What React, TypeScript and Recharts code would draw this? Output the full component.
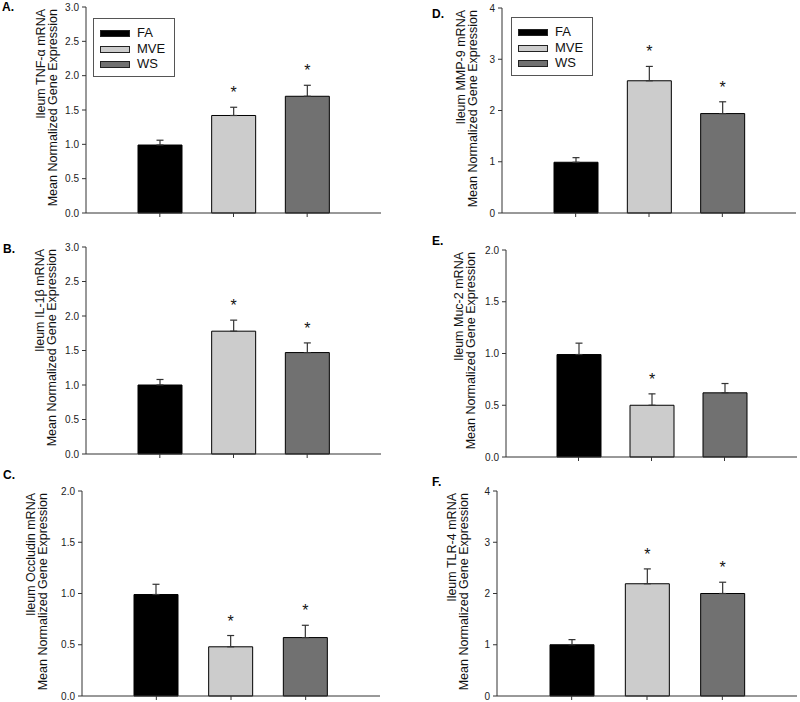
import { Bar, BarChart, Cell, ErrorBar, LabelList, Legend, XAxis, YAxis } from "recharts"

const groups = ["FA", "MVE", "WS"]
const groupColors = ["#000000", "#cccccc", "#717171"]

const tnfMean = [0.99, 1.42, 1.7]
const tnfErr = [0.07, 0.12, 0.16]
const tnfSig = [false, true, true]

const il1Mean = [1.0, 1.78, 1.47]
const il1Err = [0.08, 0.16, 0.14]
const il1Sig = [false, true, true]

const occludinMean = [0.99, 0.48, 0.57]
const occludinErr = [0.1, 0.11, 0.12]
const occludinSig = [false, true, true]

const mmp9Mean = [0.99, 2.58, 1.94]
const mmp9Err = [0.09, 0.28, 0.23]
const mmp9Sig = [false, true, true]

const muc2Mean = [0.99, 0.5, 0.62]
const muc2Err = [0.11, 0.11, 0.09]
const muc2Sig = [false, true, false]

const tlr4Mean = [1.0, 2.19, 2.0]
const tlr4Err = [0.1, 0.29, 0.22]
const tlr4Sig = [false, true, true]

const ticksThree = [0, 0.5, 1, 1.5, 2, 2.5, 3]
const ticksTwo = [0, 0.5, 1, 1.5, 2]
const ticksFour = [0, 1, 2, 3, 4]

const FONT = "'Liberation Sans', Arial, sans-serif"

type Row = { group: string; mean: number; err: number; errRange: number[]; sig: boolean }

function makeRows(mean: number[], err: number[], sig: boolean[]): Row[] {
  return groups.map((g, i) => ({ group: g, mean: mean[i], err: err[i], errRange: [0, err[i]], sig: sig[i] }))
}

type Panel = {
  letter: string
  title: string
  rows: Row[]
  ticks: number[]
  decimals: number
  left: number
  top: number
  margin: { top: number; right: number; bottom: number; left: number }
  pad: number
  titleOffset: number
  legend?: { left: number; top: number }
  letterPos: { x: number; y: number }
}

const panels: Panel[] = [
  {
    letter: "A.", title: "Ileum TNF-\u03b1 mRNA", rows: makeRows(tnfMean, tnfErr, tnfSig),
    ticks: ticksThree, decimals: 1, left: 0, top: 0,
    margin: { top: 7, right: 19, bottom: 15, left: 46 }, pad: 37, titleOffset: -33,
    legend: { left: 93, top: 18 }, letterPos: { x: 2, y: 12 },
  },
  {
    letter: "D.", title: "Ileum MMP-9 mRNA", rows: makeRows(mmp9Mean, mmp9Err, mmp9Sig),
    ticks: ticksFour, decimals: 0, left: 400, top: 0,
    margin: { top: 8, right: 4, bottom: 15, left: 62 }, pad: 37, titleOffset: -29,
    legend: { left: 111, top: 17 }, letterPos: { x: 432, y: 19 },
  },
  {
    letter: "B.", title: "Ileum IL-1\u03b2 mRNA", rows: makeRows(il1Mean, il1Err, il1Sig),
    ticks: ticksThree, decimals: 1, left: 0, top: 234,
    margin: { top: 13, right: 19, bottom: 8, left: 46 }, pad: 37, titleOffset: -34,
    letterPos: { x: 3, y: 254 },
  },
  {
    letter: "E.", title: "Ileum Muc-2 mRNA", rows: makeRows(muc2Mean, muc2Err, muc2Sig),
    ticks: ticksTwo, decimals: 1, left: 400, top: 234,
    margin: { top: 16, right: 3, bottom: 5, left: 66 }, pad: 36, titleOffset: -35,
    letterPos: { x: 432, y: 246 },
  },
  {
    letter: "C.", title: "Ileum Occludin mRNA", rows: makeRows(occludinMean, occludinErr, occludinSig),
    ticks: ticksTwo, decimals: 1, left: 0, top: 468,
    margin: { top: 23, right: 20, bottom: 0, left: 42 }, pad: 37, titleOffset: -39,
    letterPos: { x: 3, y: 480 },
  },
  {
    letter: "F.", title: "Ileum TLR-4 mRNA", rows: makeRows(tlr4Mean, tlr4Err, tlr4Sig),
    ticks: ticksFour, decimals: 0, left: 400, top: 468,
    margin: { top: 23, right: 3, bottom: 0, left: 57 }, pad: 37, titleOffset: -33,
    letterPos: { x: 432, y: 487 },
  },
]

function LegendBox() {
  return (
    <div
      style={{
        width: 80, height: 57, border: "1px solid #555", background: "#fff",
        fontFamily: FONT, fontSize: 13, color: "#111", boxSizing: "content-box",
      }}
    >
      {groups.map((g, i) => (
        <div key={g} style={{ position: "relative", height: 15.5, marginTop: i === 0 ? 6 : 0 }}>
          <div
            style={{
              position: "absolute", left: 6, top: 5, width: 28, height: 5,
              background: groupColors[i], border: "1px solid #222",
            }}
          />
          <div style={{ position: "absolute", left: 43, top: 0, lineHeight: "15px" }}>{g}</div>
        </div>
      ))}
    </div>
  )
}

function ChartPanel({ panel }: { panel: Panel }) {
  const yMax = panel.ticks[panel.ticks.length - 1]

  const renderTitle = (props: any) => {
    const vb = props.viewBox || {}
    const plotLeft = vb.x + vb.width
    const endY = vb.y + 2
    const x2 = plotLeft + panel.titleOffset
    const x1 = x2 - 12.5
    const common = { fontFamily: FONT, fontSize: 12.5, fill: "#111", textAnchor: "end" as const, dominantBaseline: "central" as const }
    return (
      <g>
        <text x={x1} y={endY} transform={`rotate(-90 ${x1} ${endY})`} {...common}>{panel.title}</text>
        <text x={x2} y={endY} transform={`rotate(-90 ${x2} ${endY})`} {...common}>Mean Normalized Gene Expression</text>
      </g>
    )
  }

  const renderStar = (props: any) => {
    const { x, y, width, height, index } = props
    const row = panel.rows[index]
    if (!row || !row.sig) return null
    const pxPerUnit = height / row.mean
    const errTop = y - row.err * pxPerUnit
    return (
      <text x={x + width / 2} y={errTop - 9} textAnchor="middle" fontFamily={FONT} fontSize={16} fill="#111">
        *
      </text>
    )
  }

  return (
    <div style={{ position: "absolute", left: panel.left, top: panel.top }}>
      <BarChart width={400} height={234} data={panel.rows} margin={panel.margin}>
        <XAxis
          dataKey="group"
          height={6}
          interval={0}
          padding={{ left: panel.pad, right: panel.pad }}
          tickFormatter={() => ""}
          tickSize={4}
          stroke="#333"
        />
        <XAxis xAxisId="top" dataKey="group" orientation="top" height={0} tick={false} tickLine={false} stroke="#333" />
        <YAxis
          width={40}
          domain={[0, yMax]}
          ticks={panel.ticks}
          interval={0}
          tickSize={4}
          tickMargin={3}
          stroke="#333"
          tick={{ fontSize: 10, fill: "#222", fontFamily: FONT }}
          tickFormatter={(v: number) => v.toFixed(panel.decimals)}
          label={{ content: renderTitle }}
        />
        <YAxis yAxisId="right" orientation="right" width={0} tick={false} tickLine={false} stroke="#333" />
        {panel.legend && (
          <Legend
            layout="vertical"
            align="center"
            verticalAlign="middle"
            content={() => <LegendBox />}
            wrapperStyle={{ left: panel.legend.left, top: panel.legend.top, width: 82, height: 59 }}
          />
        )}
        <Bar dataKey="mean" barSize={44} stroke="#000" strokeWidth={1} isAnimationActive={false}>
          {panel.rows.map((r, i) => (
            <Cell key={r.group} fill={groupColors[i]} />
          ))}
          <ErrorBar dataKey="errRange" direction="y" width={3.5} stroke="#333" strokeWidth={1.2} />
          <LabelList dataKey="mean" content={renderStar} />
        </Bar>
      </BarChart>
    </div>
  )
}

export default function App() {
  return (
    <div
      style={{
        position: "absolute", left: 0, top: 0, width: 800, height: 702,
        overflow: "hidden", background: "#fff", fontFamily: FONT,
      }}
    >
      {panels.map((p) => (
        <ChartPanel key={p.letter} panel={p} />
      ))}
      {panels.map((p) => (
        <div
          key={"l" + p.letter}
          style={{
            position: "absolute", left: p.letterPos.x, top: p.letterPos.y - 11,
            fontSize: 12, fontWeight: "bold", lineHeight: "12px", color: "#000",
          }}
        >
          {p.letter}
        </div>
      ))}
    </div>
  )
}
